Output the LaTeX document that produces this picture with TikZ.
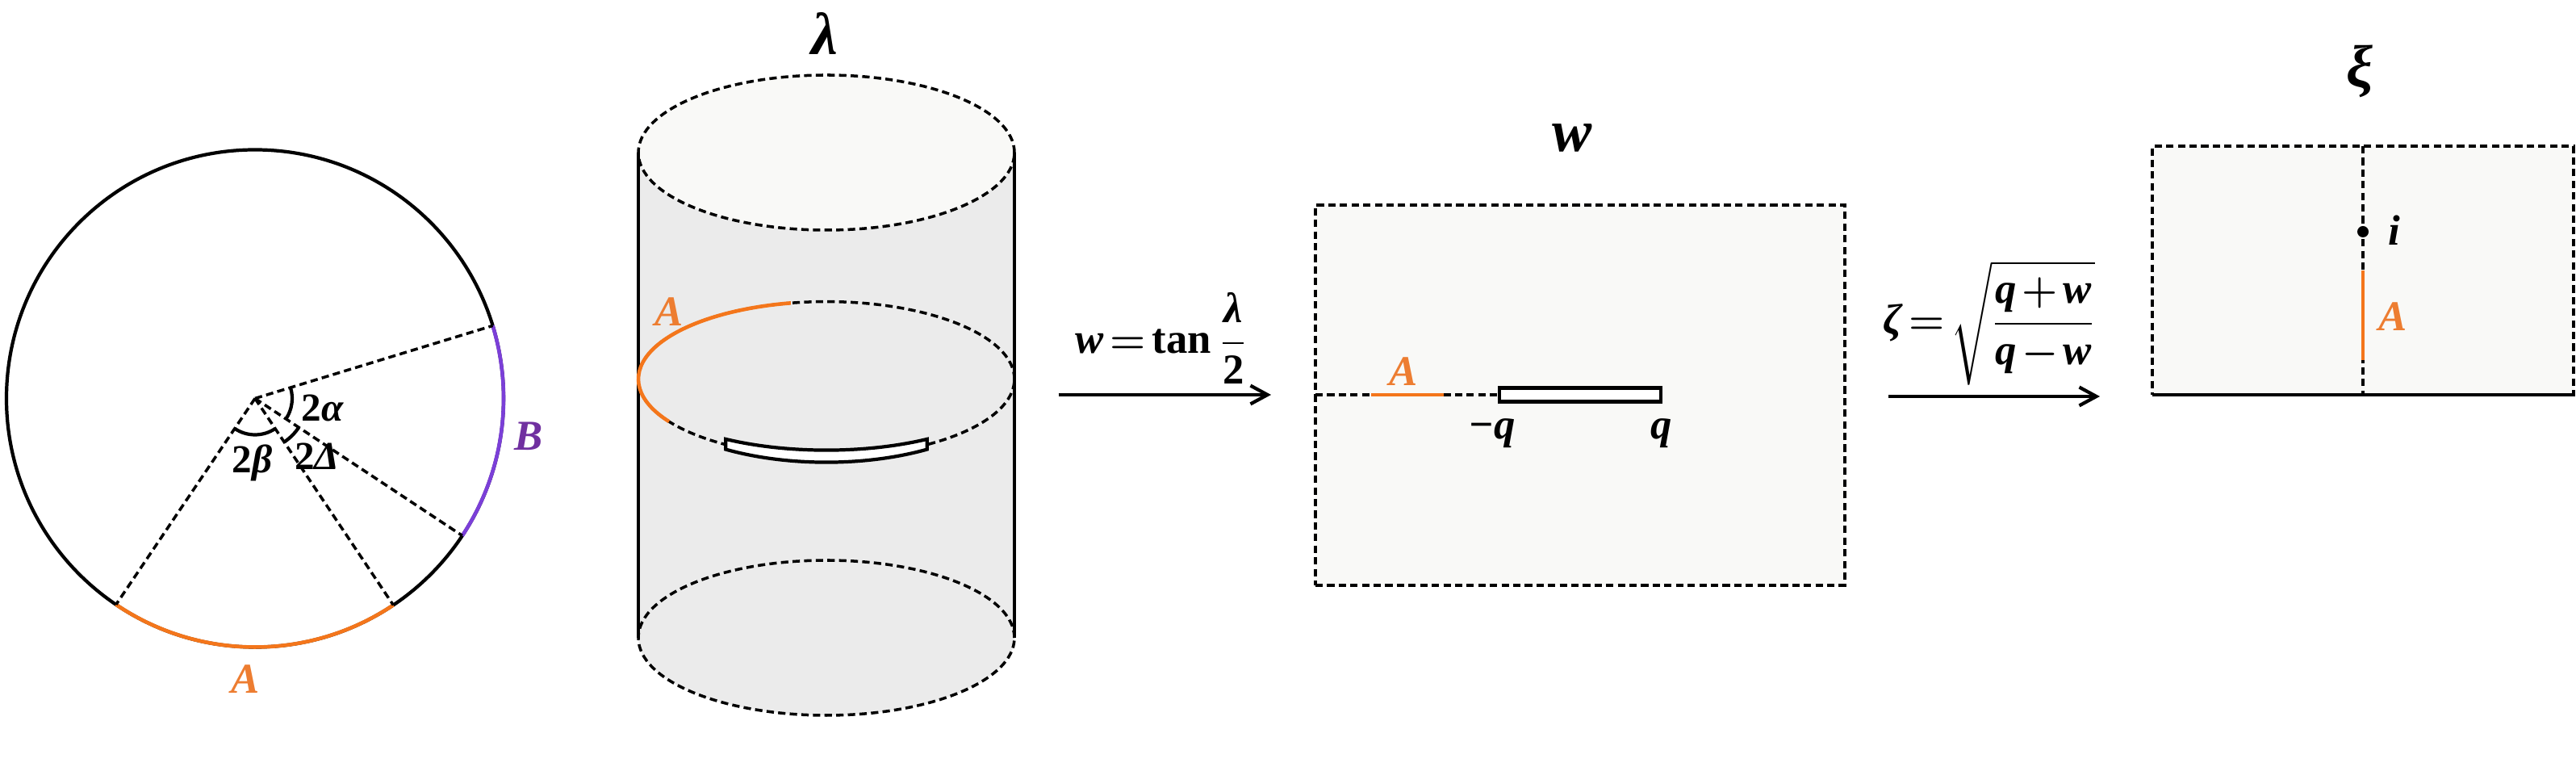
\documentclass[tikz,border=0pt]{standalone}
\usepackage{amsmath}
\usepackage{fontspec}
\setmainfont{Liberation Serif}
\usetikzlibrary{positioning,arrows.meta}
\definecolor{arcorange}{HTML}{F4761B}
\definecolor{txtorange}{HTML}{ED7D31}
\definecolor{arcpurple}{HTML}{7B3FD8}
\definecolor{txtpurple}{HTML}{7030A0}
\definecolor{cylgray}{HTML}{EBEBEB}
\definecolor{pale}{HTML}{F9F9F7}
\newcommand{\mv}[1]{\text{#1}}
\newcommand{\tightmu}{\thickmuskip=2.5mu\relax\medmuskip=2mu\relax}

\begin{document}
\begin{tikzpicture}[solidline/.style={line width=1.2pt},
	dashline/.style={line width=1pt,dash pattern=on 2.6pt off 1.5pt},
	orangeline/.style={line width=1.3pt,arcorange},
	maparrow/.style={line width=1.2pt,-{Straight Barb[length=6pt,width=6.5pt,line width=1.2pt]}},
	lbl/.style={inner sep=0pt,font=\fontsize{15}{18}\selectfont\bfseries\itshape\boldmath},
	anglelbl/.style={inner sep=0pt,font=\fontsize{14}{17}\selectfont\bfseries\itshape},
	title/.style={inner sep=0pt,font=\fontsize{21}{24}\selectfont\bfseries\itshape}]
	\useasboundingbox (0,0) rectangle (31.92,9.5);

	\coordinate (c) at (3.16,4.565);
	\coordinate (r1) at ([shift={(17:3.08)}]c);
	\coordinate (r2) at ([shift={(-33.5:3.08)}]c);
	\coordinate (r3) at ([shift={(-56.2:3.08)}]c);
	\coordinate (r4) at ([shift={(-124:3.08)}]c);
	\draw[solidline] (c) circle (3.08);
	\draw[orangeline] (r4) arc[start angle=-124,end angle=-56.2,radius=3.08];
	\draw[line width=1.3pt,arcpurple] (r2) arc[start angle=-33.5,end angle=17,radius=3.08];
	\draw[dashline] (c) -- (r1);
	\draw[dashline] (c) -- (r2);
	\draw[dashline] (c) -- (r3);
	\draw[dashline] (c) -- (r4);
	\draw[solidline] ([shift={(17:0.46)}]c) arc[start angle=17,end angle=-33.5,radius=0.46];
	\draw[solidline] ([shift={(-56.2:0.65)}]c) arc[start angle=-56.2,end angle=-33.5,radius=0.65];
	\draw[solidline] ([shift={(-124:0.45)}]c) arc[start angle=-124,end angle=-56.2,radius=0.45];
	\node[anglelbl] (alpha) at (3.995,4.45) {{\upshape 2}α};
	\node[anglelbl] (beta) at (3.125,3.77) {{\upshape 2}β};
	\node[anglelbl] (delta) at (3.93,3.85) {{\upshape 2}Δ};
	\node[lbl,text=txtpurple] (labB) at (6.55,4.10) {B};
	\node[lbl,text=txtorange] (labA) at (3.04,1.09) {A};

	\coordinate (top) at (10.24,7.61);
	\coordinate (mid) at (10.24,4.804);
	\coordinate (bot) at (10.24,1.60);
	\coordinate (tl) at (7.91,7.61);
	\coordinate (tr) at (12.57,7.61);
	\coordinate (bl) at (7.91,1.60);
	\coordinate (br) at (12.57,1.60);
	\fill[cylgray] (bot) ellipse (2.33 and 0.96);
	\fill[cylgray] (bl) rectangle (tr);
	\draw[dashline,fill=pale] (top) ellipse (2.33 and 0.96);
	\draw[dashline] (mid) ellipse (2.33 and 0.96);
	\draw[dashline] (bot) ellipse (2.33 and 0.96);
	\draw[line width=1.3pt] (tl) -- (bl);
	\draw[line width=1.3pt] (tr) -- (br);
	\draw[orangeline] ([shift={(100.9:2.33 and 0.96)}]mid) arc[start angle=100.9,end angle=213.2,x radius=2.33,y radius=0.96];
	\coordinate (slitb) at ([shift={(302.4:2.33 and 1.03)}]mid);
	\draw[solidline,fill=white] ([shift={(237.6:2.33 and 0.88)}]mid) arc[start angle=237.6,end angle=302.4,x radius=2.33,y radius=0.88]
		-- (slitb) arc[start angle=302.4,end angle=237.6,x radius=2.33,y radius=1.03] -- cycle;
	\node[lbl,text=txtorange] (labA2) at (8.29,5.64) {A};
	\node[title] (lambda) at (10.22,9.08) {λ};

	\coordinate (m1) at (13.115,4.61);
	\coordinate (m2) at (15.75,4.61);
	\draw[maparrow] (m1) -- (m2);
	\node[lbl] (mapw) at (14.39,5.31) {$\tightmu\mv{w}=\mv{\upshape tan}\,\dfrac{\mv{λ}}{\mv{\upshape 2}}$};

	\node[draw,dashline,fill=pale,inner sep=0pt,minimum width=6.56cm,minimum height=4.71cm] (wbox) at (19.58,4.605) {};
	\coordinate (w0) at (16.30,4.61);
	\coordinate (w1) at (18.58,4.61);
	\coordinate (a1) at (16.99,4.61);
	\coordinate (a2) at (17.89,4.61);
	\draw[dashline] (w0) -- (w1);
	\draw[orangeline] (a1) -- (a2);
	\node[draw,solidline,fill=white,inner sep=0pt,minimum width=2cm,minimum height=0.17cm] (wslit) at (19.58,4.61) {};
	\node[title] (wlab) at (19.48,7.79) {w};
	\node[lbl,text=txtorange] (labA3) at (17.39,4.90) {A};
	\node[lbl] (mq) at (18.49,4.13) {−q};
	\node[lbl] (pq) at (20.59,4.13) {q};

	\coordinate (n1) at (23.40,4.59);
	\coordinate (n2) at (26.02,4.59);
	\draw[maparrow] (n1) -- (n2);
	\node[lbl] (mapz) at (24.65,5.50) {$\tightmu\mv{ζ}=\sqrt{\dfrac{\mv{q}+\mv{w}}{\mv{q}-\mv{w}}}$};

	\node[draw,dashline,fill=pale,inner sep=0pt,minimum width=5.22cm,minimum height=3.08cm] (zbox) at (29.28,6.15) {};
	\coordinate (zt) at (29.28,7.69);
	\coordinate (zb) at (29.28,4.61);
	\coordinate (zl) at (26.67,4.61);
	\coordinate (zr) at (31.89,4.61);
	\coordinate (z1) at (29.28,6.15);
	\coordinate (z2) at (29.28,5.04);
	\draw[dashline] (zt) -- (zb);
	\draw[line width=1.3pt] (zl) -- (zr);
	\draw[orangeline] (z1) -- (z2);
	\node[circle,fill=black,inner sep=0pt,minimum size=0.14cm] (idot) at (29.28,6.63) {};
	\node[lbl] (ilab) at (29.67,6.65) {i};
	\node[lbl,text=txtorange] (labA4) at (29.65,5.58) {A};
	\node[title] (xilab) at (29.24,8.62) {ξ};
\end{tikzpicture}
\end{document}
